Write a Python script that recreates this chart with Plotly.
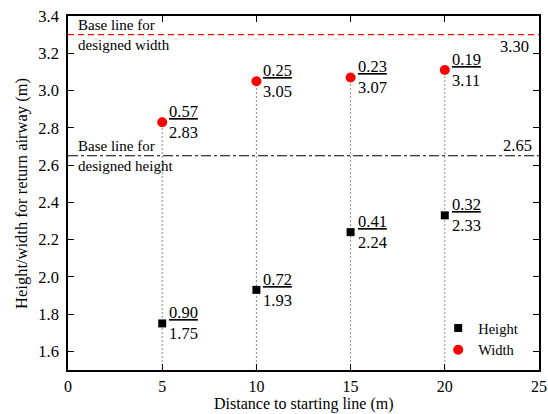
import plotly.graph_objects as go

# Measurements along the return airway
distance = [5, 10, 15, 20]
height = [1.75, 1.93, 2.24, 2.33]
width = [2.83, 3.05, 3.07, 3.11]
# Shortfall against the design values, as written beside each point
height_gap = ["0.90", "0.72", "0.41", "0.32"]
width_gap = ["0.57", "0.25", "0.23", "0.19"]

design_width = 3.30
design_height = 2.65

x_range = [0, 25]
y_range = [1.5, 3.4]

FONT = "Times New Roman, Liberation Serif, DejaVu Serif, serif"

fig = go.Figure()

# Dotted guides from the x-axis up to each width point
for x, w in zip(distance, width):
    fig.add_trace(go.Scatter(
        x=[x, x], y=[y_range[0], w], mode="lines",
        line=dict(color="#8c8c8c", width=1, dash="2px,2px"),
        showlegend=False, hoverinfo="skip"))

# Design base lines
fig.add_trace(go.Scatter(
    x=x_range, y=[design_width, design_width], mode="lines",
    line=dict(color="#ff0000", width=1.2, dash="6px,4px"),
    showlegend=False, hoverinfo="skip"))
fig.add_trace(go.Scatter(
    x=x_range, y=[design_height, design_height], mode="lines",
    line=dict(color="#000000", width=1.2, dash="10px,3px,3px,3px"),
    showlegend=False, hoverinfo="skip"))

fig.add_trace(go.Scatter(
    x=distance, y=height, mode="markers", name="Height",
    marker=dict(symbol="square", size=8, color="#000000")))
fig.add_trace(go.Scatter(
    x=distance, y=width, mode="markers", name="Width",
    marker=dict(symbol="circle", size=10, color="#ff0000")))

# Fraction-style labels: gap over measured value
for x, v, g in list(zip(distance, height, height_gap)) + list(zip(distance, width, width_gap)):
    fig.add_annotation(
        x=x, y=v, xref="x", yref="y",
        text=f"<u>{g}</u><br>{v:.2f}",
        showarrow=False, xanchor="left", yanchor="middle",
        xshift=5, align="left",
        font=dict(family=FONT, size=16.5, color="#000000"))

# Base line captions and values
fig.add_annotation(
    x=0, y=design_width, xref="paper", yref="y",
    text="Base line for<br>designed width", showarrow=False,
    xanchor="left", yanchor="middle", xshift=8, align="left",
    font=dict(family=FONT, size=15, color="#000000"))
fig.add_annotation(
    x=0, y=design_height, xref="paper", yref="y",
    text="Base line for<br>designed height", showarrow=False,
    xanchor="left", yanchor="middle", xshift=8, align="left",
    font=dict(family=FONT, size=15, color="#000000"))
fig.add_annotation(
    x=1, y=design_width, xref="paper", yref="y",
    text=f"{design_width:.2f}", showarrow=False,
    xanchor="right", yanchor="top", xshift=-8, yshift=0,
    font=dict(family=FONT, size=16.5, color="#000000"))
fig.add_annotation(
    x=1, y=design_height, xref="paper", yref="y",
    text=f"{design_height:.2f}", showarrow=False,
    xanchor="right", yanchor="bottom", xshift=-5, yshift=-1,
    font=dict(family=FONT, size=16.5, color="#000000"))

# Axis titles
fig.add_annotation(
    x=0.5, y=-0.097, xref="paper", yref="paper",
    text="Distance to starting line (m)", showarrow=False,
    xanchor="center", yanchor="middle",
    font=dict(family=FONT, size=16, color="#000000"))
fig.add_annotation(
    x=-0.1, y=0.5, xref="paper", yref="paper",
    text="Height/width for return airway (m)", showarrow=False,
    xanchor="center", yanchor="middle", textangle=-90,
    font=dict(family=FONT, size=16.5, color="#000000"))

axis_common = dict(
    showline=True, linecolor="#000000", linewidth=1.6, mirror="ticks",
    ticks="inside", ticklen=6, tickwidth=1.3, tickcolor="#000000",
    showgrid=False, zeroline=False, automargin=False,
)

fig.update_xaxes(range=x_range, tick0=0, dtick=5, ticklabelstandoff=1,
                 tickfont=dict(family=FONT, size=16, color="#000000"),
                 **axis_common)
fig.update_yaxes(range=y_range, tick0=1.6, dtick=0.2, tickformat=".1f",
                 ticklabelstandoff=4,
                 tickfont=dict(family=FONT, size=16.5, color="#000000"),
                 **axis_common)

fig.update_layout(
    width=548, height=414,
    margin=dict(l=68, r=9, t=16, b=44),
    paper_bgcolor="#ffffff", plot_bgcolor="#ffffff",
    font=dict(family=FONT, color="#000000"),
    legend=dict(
        x=0.786, y=0.0876, xanchor="left", yanchor="middle",
        bgcolor="rgba(0,0,0,0)", borderwidth=0,
        font=dict(family=FONT, size=14.5, color="#000000"),
        tracegroupgap=0, itemsizing="trace"),
    showlegend=True,
)

fig.write_html("out.html")
